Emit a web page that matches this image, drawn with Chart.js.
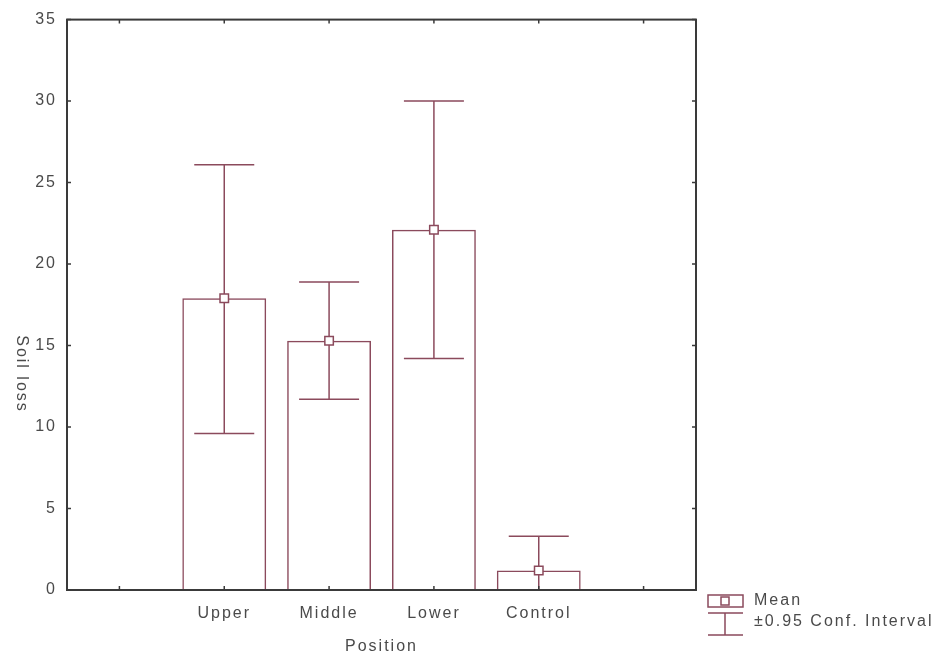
<!DOCTYPE html>
<html>
<head>
<meta charset="utf-8">
<script src="https://cdn.jsdelivr.net/npm/chart.js@4.4.0/dist/chart.umd.min.js"></script>
<style>
  body { margin: 0; background: #fff; }
  #wrap { width: 934px; height: 660px; }
</style>
</head>
<body>
<div id="wrap"><canvas id="chart" width="934" height="660"></canvas></div>
<script>
// data (empty slots left and right of the groups)
const categories = ['', 'Upper', 'Middle', 'Lower', 'Control', ''];
const means = [null, 17.9, 15.3, 22.1, 1.2, null];
const ciLow = [null, 9.6, 11.7, 14.2, -0.9, null];
const ciHigh = [null, 26.1, 18.9, 30.0, 3.3, null];
const yTicks = [0, 5, 10, 15, 20, 25, 30, 35];

const maroon = '#8b4a5c';
const axisColor = '#3a3a3a';
const textColor = '#4a4a4a';
const family = '"Liberation Sans", Arial, sans-serif';
const font = '16px ' + family;

// error bars, frame, inward ticks, rotated y title and legend
const decorations = {
    id: 'decorations',
    beforeDraw(chart) {
        chart.ctx.letterSpacing = '2px';
    },
    beforeDatasetsDraw(chart) {
        const { ctx, chartArea: a, scales: { x, y } } = chart;
        ctx.save();
        ctx.beginPath();
        ctx.rect(a.left, a.top, a.right - a.left, a.bottom - a.top);
        ctx.clip();
        ctx.strokeStyle = maroon;
        ctx.lineWidth = 1.5;
        means.forEach((m, i) => {
            if (m === null) return;
            const px = x.getPixelForValue(i);
            const top = y.getPixelForValue(ciHigh[i]);
            const bot = y.getPixelForValue(ciLow[i]);
            ctx.beginPath();
            ctx.moveTo(px, top); ctx.lineTo(px, bot);
            ctx.moveTo(px - 30, top); ctx.lineTo(px + 30, top);
            ctx.moveTo(px - 30, bot); ctx.lineTo(px + 30, bot);
            ctx.stroke();
        });
        ctx.restore();
    },
    afterDraw(chart) {
        const { ctx, chartArea: a, scales: { x, y } } = chart;
        ctx.save();
        ctx.strokeStyle = axisColor;
        ctx.lineWidth = 2;
        ctx.strokeRect(a.left, a.top, a.right - a.left, a.bottom - a.top);

        // inward ticks on all four sides
        ctx.lineWidth = 1.5;
        ctx.beginPath();
        y.ticks.forEach(t => {
            const py = y.getPixelForValue(t.value);
            ctx.moveTo(a.left, py); ctx.lineTo(a.left + 4, py);
            ctx.moveTo(a.right, py); ctx.lineTo(a.right - 4, py);
        });
        categories.forEach((c, i) => {
            const px = x.getPixelForValue(i);
            ctx.moveTo(px, a.top); ctx.lineTo(px, a.top + 4);
            ctx.moveTo(px, a.bottom); ctx.lineTo(px, a.bottom - 4);
        });
        ctx.stroke();

        // y title, turned clockwise
        ctx.fillStyle = textColor;
        ctx.font = font;
        ctx.letterSpacing = '2px';
        ctx.save();
        ctx.translate(21, 374);
        ctx.rotate(Math.PI / 2);
        ctx.textAlign = 'center';
        ctx.textBaseline = 'middle';
        ctx.fillText('Soil loss', 0, 0);
        ctx.restore();

        // legend
        ctx.strokeStyle = maroon;
        ctx.lineWidth = 1.5;
        ctx.strokeRect(708, 595, 35, 12);
        ctx.fillStyle = '#fff';
        ctx.fillRect(721, 597, 8, 8);
        ctx.strokeRect(721, 597, 8, 8);
        ctx.beginPath();
        ctx.moveTo(708, 613); ctx.lineTo(743, 613);
        ctx.moveTo(725, 613); ctx.lineTo(725, 635);
        ctx.moveTo(708, 635); ctx.lineTo(743, 635);
        ctx.stroke();
        ctx.fillStyle = textColor;
        ctx.textAlign = 'left';
        ctx.textBaseline = 'middle';
        ctx.fillText('Mean', 754, 601);
        ctx.fillText('±0.95 Conf. Interval', 754, 622);
        ctx.restore();
    }
};

new Chart(document.getElementById('chart'), {
    data: {
        labels: categories,
        datasets: [
            {
                type: 'line',
                label: 'Mean',
                data: means,
                showLine: false,
                pointStyle: 'rect',
                pointRadius: 6,
                pointBackgroundColor: '#fff',
                pointBorderColor: maroon,
                pointBorderWidth: 1.5
            },
            {
                type: 'bar',
                label: 'Bars',
                data: means,
                backgroundColor: 'rgba(255,255,255,0)',
                borderColor: maroon,
                borderWidth: 1.5,
                borderSkipped: 'bottom',
                categoryPercentage: 1,
                barPercentage: 0.8
            }
        ]
    },
    options: {
        responsive: false,
        animation: false,
        layout: { padding: { top: 16, right: 238, left: 0, bottom: 0 } },
        plugins: { legend: { display: false }, tooltip: { enabled: false } },
        scales: {
            x: {
                offset: true,
                grid: { display: false, drawTicks: false },
                border: { display: false },
                ticks: { autoSkip: false, maxRotation: 0, padding: 14, color: textColor, font: { family, size: 16 } },
                title: { display: true, text: 'Position', color: textColor, font: { family, size: 16 } },
                afterFit: s => { s.height = 70; }
            },
            y: {
                min: 0,
                max: 35,
                afterBuildTicks: s => { s.ticks = yTicks.map(v => ({ value: v })); },
                grid: { display: false, drawTicks: false },
                border: { display: false },
                ticks: { padding: 10, color: textColor, font: { family, size: 16 } },
                afterFit: s => { s.width = 67; }
            }
        }
    },
    plugins: [decorations]
});
</script>
</body>
</html>
